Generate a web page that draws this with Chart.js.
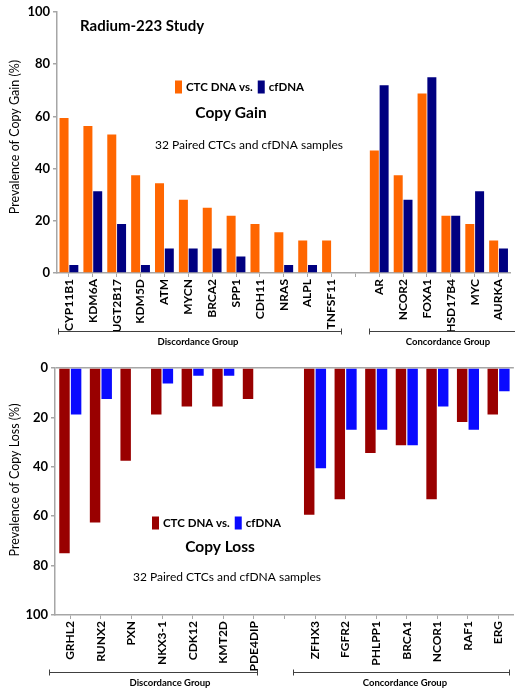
<!DOCTYPE html>
<html>
<head>
<meta charset="utf-8">
<script src="https://cdn.jsdelivr.net/npm/chart.js@4.4.1/dist/chart.umd.min.js"></script>
<style>
  html, body { margin: 0; padding: 0; background: #fff; }
  #wrap { position: relative; width: 515px; height: 690px; }
  canvas { position: absolute; left: 0; }
</style>
</head>
<body>
<div id="wrap">
  <canvas id="gain" width="515" height="352" style="top:0"></canvas>
  <canvas id="loss" width="515" height="345" style="top:345px"></canvas>
</div>
<script>
// Copy gain (% of 32 paired samples); the blank category separates the two groups
const gainGenes = ['CYP11B1','KDM6A','UGT2B17','KDM5D','ATM','MYCN','BRCA2','SPP1','CDH11','NRAS','ALPL','TNFSF11','','AR','NCOR2','FOXA1','HSD17B4','MYC','AURKA'];
const gainCTC   = [59.4, 56.3, 53.1, 37.5, 34.4, 28.1, 25.0, 21.9, 18.8, 15.6, 12.5, 12.5, null, 46.9, 37.5, 68.8, 21.9, 18.8, 12.5];
const gainCfDNA = [3.1, 31.3, 18.8, 3.1, 9.4, 9.4, 9.4, 6.3, 0, 3.1, 3.1, 0, null, 71.9, 28.1, 75.0, 21.9, 31.3, 9.4];

// Copy loss (% of 32 paired samples)
const lossGenes = ['GRHL2','RUNX2','PXN','NKX3-1','CDK12','KMT2D','PDE4DIP','','ZFHX3','FGFR2','PHLPP1','BRCA1','NCOR1','RAF1','ERG'];
const lossCTC   = [75.0, 62.5, 37.5, 18.8, 15.6, 15.6, 12.5, null, 59.4, 53.1, 34.4, 31.3, 53.1, 21.9, 18.8];
const lossCfDNA = [18.8, 12.5, 0, 6.3, 3.1, 3.1, 0, null, 40.6, 25.0, 25.0, 31.3, 15.6, 25.0, 9.4];

const yTicks = [0, 20, 40, 60, 80, 100];
const seriesLabels = ['CTC DNA vs.', 'cfDNA'];
const groupLabels = ['Discordance Group', 'Concordance Group'];

const FONT = 'Lato, "Open Sans", sans-serif';
const AXIS_GREY = '#a6a6a6';

// Free-standing annotations: titles, inline legend, y title and group brackets
const decor = {
  id: 'decor',
  afterDraw(chart, args, o) {
    const ctx = chart.ctx;
    ctx.save();
    ctx.fillStyle = '#000';
    ctx.textBaseline = 'middle';

    (o.texts || []).forEach(t => {
      ctx.font = t.font + ' ' + FONT;
      ctx.textAlign = t.align || 'left';
      ctx.fillText(t.text, t.x, t.y);
    });

    if (o.legend) {
      let x = o.legend.x;
      const y = o.legend.y;
      ctx.font = 'bold 11.5px ' + FONT;
      ctx.textAlign = 'left';
      chart.data.datasets.forEach(ds => {
        ctx.fillStyle = ds.backgroundColor;
        ctx.fillRect(x, y - 6.5, 7, 13);
        x += 11;
        ctx.fillStyle = '#000';
        ctx.fillText(ds.label, x, y + 0.5);
        x += ctx.measureText(ds.label).width + 5;
      });
    }

    if (o.yTitle) {
      ctx.save();
      ctx.translate(o.yTitle.x, o.yTitle.y);
      ctx.rotate(-Math.PI / 2);
      ctx.font = '12.5px ' + FONT;
      ctx.textAlign = 'center';
      ctx.fillStyle = '#000';
      ctx.fillText(o.yTitle.text, 0, 0);
      ctx.restore();
    }

    (o.brackets || []).forEach(b => {
      const y = Math.round(b.y) + 0.5;
      ctx.strokeStyle = '#404040';
      ctx.lineWidth = 1;
      ctx.beginPath();
      ctx.moveTo(b.x1, y); ctx.lineTo(b.x2, y);
      ctx.moveTo(b.x1 + 0.5, y - 3); ctx.lineTo(b.x1 + 0.5, y + 3);
      ctx.moveTo(b.x2 - 0.5, y - 3); ctx.lineTo(b.x2 - 0.5, y + 3);
      ctx.stroke();
      ctx.font = 'bold 9.5px ' + FONT;
      ctx.textAlign = 'center';
      ctx.fillStyle = '#000';
      ctx.fillText(b.label, b.tx, y + 10);
    });
    ctx.restore();
  }
};

function makeChart(id, cfg) {
  return new Chart(document.getElementById(id), {
    type: 'bar',
    data: {
      labels: cfg.labels,
      datasets: [
        { label: seriesLabels[0], data: cfg.a, backgroundColor: cfg.colors[0],
          categoryPercentage: cfg.catPct, barPercentage: cfg.barPct },
        { label: seriesLabels[1], data: cfg.b, backgroundColor: cfg.colors[1],
          categoryPercentage: cfg.catPct, barPercentage: cfg.barPct }
      ]
    },
    options: {
      responsive: false,
      animation: false,
      layout: { padding: { top: cfg.padTop, left: 0, right: 1, bottom: 0 } },
      plugins: {
        legend: { display: false },
        tooltip: { enabled: false },
        decor: cfg.decor
      },
      scales: {
        x: {
          afterFit: s => { s.height = cfg.xHeight; },
          grid: { offset: false, drawOnChartArea: false, color: AXIS_GREY, tickLength: 4, lineWidth: 1 },
          border: { color: AXIS_GREY, width: 1.5 },
          ticks: {
            autoSkip: false, minRotation: 90, maxRotation: 90, padding: 2,
            color: '#000', font: { family: FONT, size: 12, weight: 'bold' }
          }
        },
        y: {
          min: 0, max: 100, reverse: cfg.reverse,
          afterFit: s => { s.width = cfg.yWidth; },
          afterBuildTicks: s => { s.ticks = yTicks.map(v => ({ value: v })); },
          grid: {
            drawOnChartArea: cfg.reverse,
            color: c => (c.tick && c.tick.value === 0) ? AXIS_GREY : 'rgba(0,0,0,0)',
            tickColor: AXIS_GREY, tickLength: 4, lineWidth: 1.5
          },
          border: { color: AXIS_GREY, width: 1.5 },
          ticks: { padding: 3, color: '#000', font: { family: FONT, size: 13, weight: 'bold' } }
        }
      }
    },
    plugins: [decor]
  });
}

makeChart('gain', {
  labels: gainGenes, a: gainCTC, b: gainCfDNA,
  colors: ['#ff6600', '#000080'],
  catPct: 0.82, barPct: 0.92,
  padTop: 12, xHeight: 79, yWidth: 57, reverse: false,
  decor: {
    texts: [
      { text: 'Radium-223 Study', x: 80, y: 26, font: 'bold 15px' },
      { text: 'Copy Gain', x: 231, y: 113, font: 'bold 15.5px', align: 'center' },
      { text: '32 Paired CTCs and cfDNA samples', x: 155, y: 145, font: '12px' }
    ],
    legend: { x: 175, y: 87 },
    yTitle: { text: 'Prevalence of Copy Gain (%)', x: 15, y: 137 },
    brackets: [
      { label: groupLabels[0], x1: 58, x2: 342, y: 331, tx: 198 },
      { label: groupLabels[1], x1: 369, x2: 527, y: 331, tx: 448 }
    ]
  }
});

makeChart('loss', {
  labels: lossGenes, a: lossCTC, b: lossCfDNA,
  colors: ['#990000', '#0a0aff'],
  catPct: 0.76, barPct: 0.9,
  padTop: 23, xHeight: 75, yWidth: 55, reverse: true,
  decor: {
    texts: [
      { text: 'Copy Loss', x: 220, y: 202, font: 'bold 15.5px', align: 'center' },
      { text: '32 Paired CTCs and cfDNA samples', x: 133, y: 232, font: '12px' }
    ],
    legend: { x: 152, y: 178 },
    yTitle: { text: 'Prevalence of Copy Loss (%)', x: 15, y: 135 },
    brackets: [
      { label: groupLabels[0], x1: 49, x2: 258, y: 327, tx: 170 },
      { label: groupLabels[1], x1: 293, x2: 510, y: 327, tx: 405 }
    ]
  }
});
</script>
</body>
</html>
